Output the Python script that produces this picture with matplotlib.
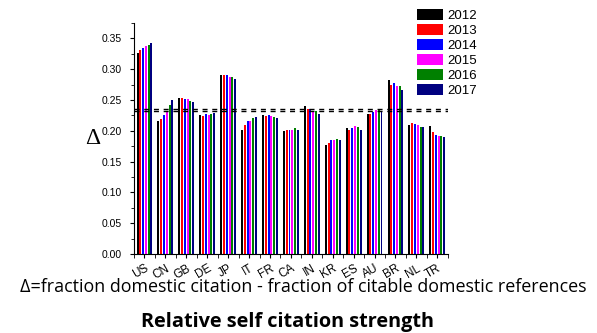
import numpy as np
import matplotlib
matplotlib.use('Agg')
import matplotlib.pyplot as plt
from matplotlib.ticker import MultipleLocator

# Countries and yearly values of the relative self citation strength
countries = ['US', 'CN', 'GB', 'DE', 'JP', 'IT', 'FR', 'CA', 'IN', 'KR', 'ES', 'AU', 'BR', 'NL', 'TR']
years = ['2012', '2013', '2014', '2015', '2016', '2017']

y2012 = [0.326, 0.216, 0.254, 0.225, 0.290, 0.201, 0.225, 0.200, 0.240, 0.177, 0.205, 0.227, 0.282, 0.209, 0.208]
y2013 = [0.331, 0.219, 0.254, 0.224, 0.290, 0.209, 0.224, 0.201, 0.236, 0.181, 0.202, 0.227, 0.274, 0.212, 0.198]
y2014 = [0.334, 0.226, 0.252, 0.227, 0.290, 0.216, 0.225, 0.201, 0.235, 0.185, 0.204, 0.230, 0.277, 0.211, 0.193]
y2015 = [0.337, 0.231, 0.251, 0.225, 0.287, 0.216, 0.224, 0.202, 0.232, 0.185, 0.208, 0.234, 0.272, 0.210, 0.191]
y2016 = [0.340, 0.242, 0.248, 0.227, 0.287, 0.221, 0.222, 0.204, 0.232, 0.186, 0.206, 0.233, 0.272, 0.206, 0.191]
y2017 = [0.342, 0.250, 0.247, 0.229, 0.284, 0.222, 0.220, 0.202, 0.228, 0.185, 0.202, 0.232, 0.266, 0.207, 0.190]

# reference levels (dashed lines)
ref_levels = [0.2355, 0.2322]

series = [y2012, y2013, y2014, y2015, y2016, y2017]
colors = ['#000000', '#FF0000', '#0000FF', '#FF00FF', '#008000', '#000080']

fig = plt.figure(figsize=(5.97, 3.33), dpi=100)
ax = fig.add_axes([0.2245, 0.237, 0.5255, 0.694])

x = np.arange(len(countries))
step = 0.133
handles = []
for i, (vals, col) in enumerate(zip(series, colors)):
    h = ax.bar(x + (i - 2.5) * step, vals, width=0.095, color=col, label=years[i])
    handles.append(h)

for lv in ref_levels:
    ax.axhline(lv, color='black', lw=1.0, ls=(0, (3.6, 3.4)))

ax.set_xlim(-0.5, len(countries) - 0.5)
ax.set_ylim(0, 0.375)
ax.spines['top'].set_visible(False)
ax.spines['right'].set_visible(False)

ax.yaxis.set_major_locator(MultipleLocator(0.05))
ax.yaxis.set_minor_locator(MultipleLocator(0.025))
ax.set_yticks(np.arange(0, 0.351, 0.05))
ax.set_yticklabels(['%.2f' % v for v in np.arange(0, 0.351, 0.05)], fontsize=7.5, family='Liberation Sans')
ax.tick_params(axis='y', which='major', direction='out', length=3, pad=6)
ax.tick_params(axis='y', which='minor', direction='out', length=2)

ax.set_xticks(x)
ax.set_xticks(np.arange(-0.5, len(countries), 1.0), minor=True)
ax.set_xticklabels(countries, rotation=30, ha='right', rotation_mode='anchor',
                   fontsize=8.5, family='Liberation Sans')
ax.tick_params(axis='x', which='major', direction='out', length=3, pad=3)
ax.tick_params(axis='x', which='minor', direction='out', length=3)

ax.set_ylabel('\u0394', fontsize=17, family='Liberation Serif', rotation=0, labelpad=6, va='center')

# legend in the top right corner
fig.legend(handles=handles, loc='upper left', bbox_to_anchor=(0.690, 0.99), frameon=False,
           prop={'family': 'Liberation Sans', 'size': 9.5}, handlelength=1.95, handleheight=0.9,
           labelspacing=0.15, handletextpad=0.3, borderaxespad=0)

fig.text(0.508, 0.138, '\u0394=fraction domestic citation - fraction of citable domestic references',
         ha='center', va='center', fontsize=12.9, family='Open Sans')
fig.text(0.482, 0.033, 'Relative self citation strength', ha='center', va='center',
         fontsize=14.3, fontweight='bold', family='Open Sans')

plt.savefig('out.png', dpi=100)
